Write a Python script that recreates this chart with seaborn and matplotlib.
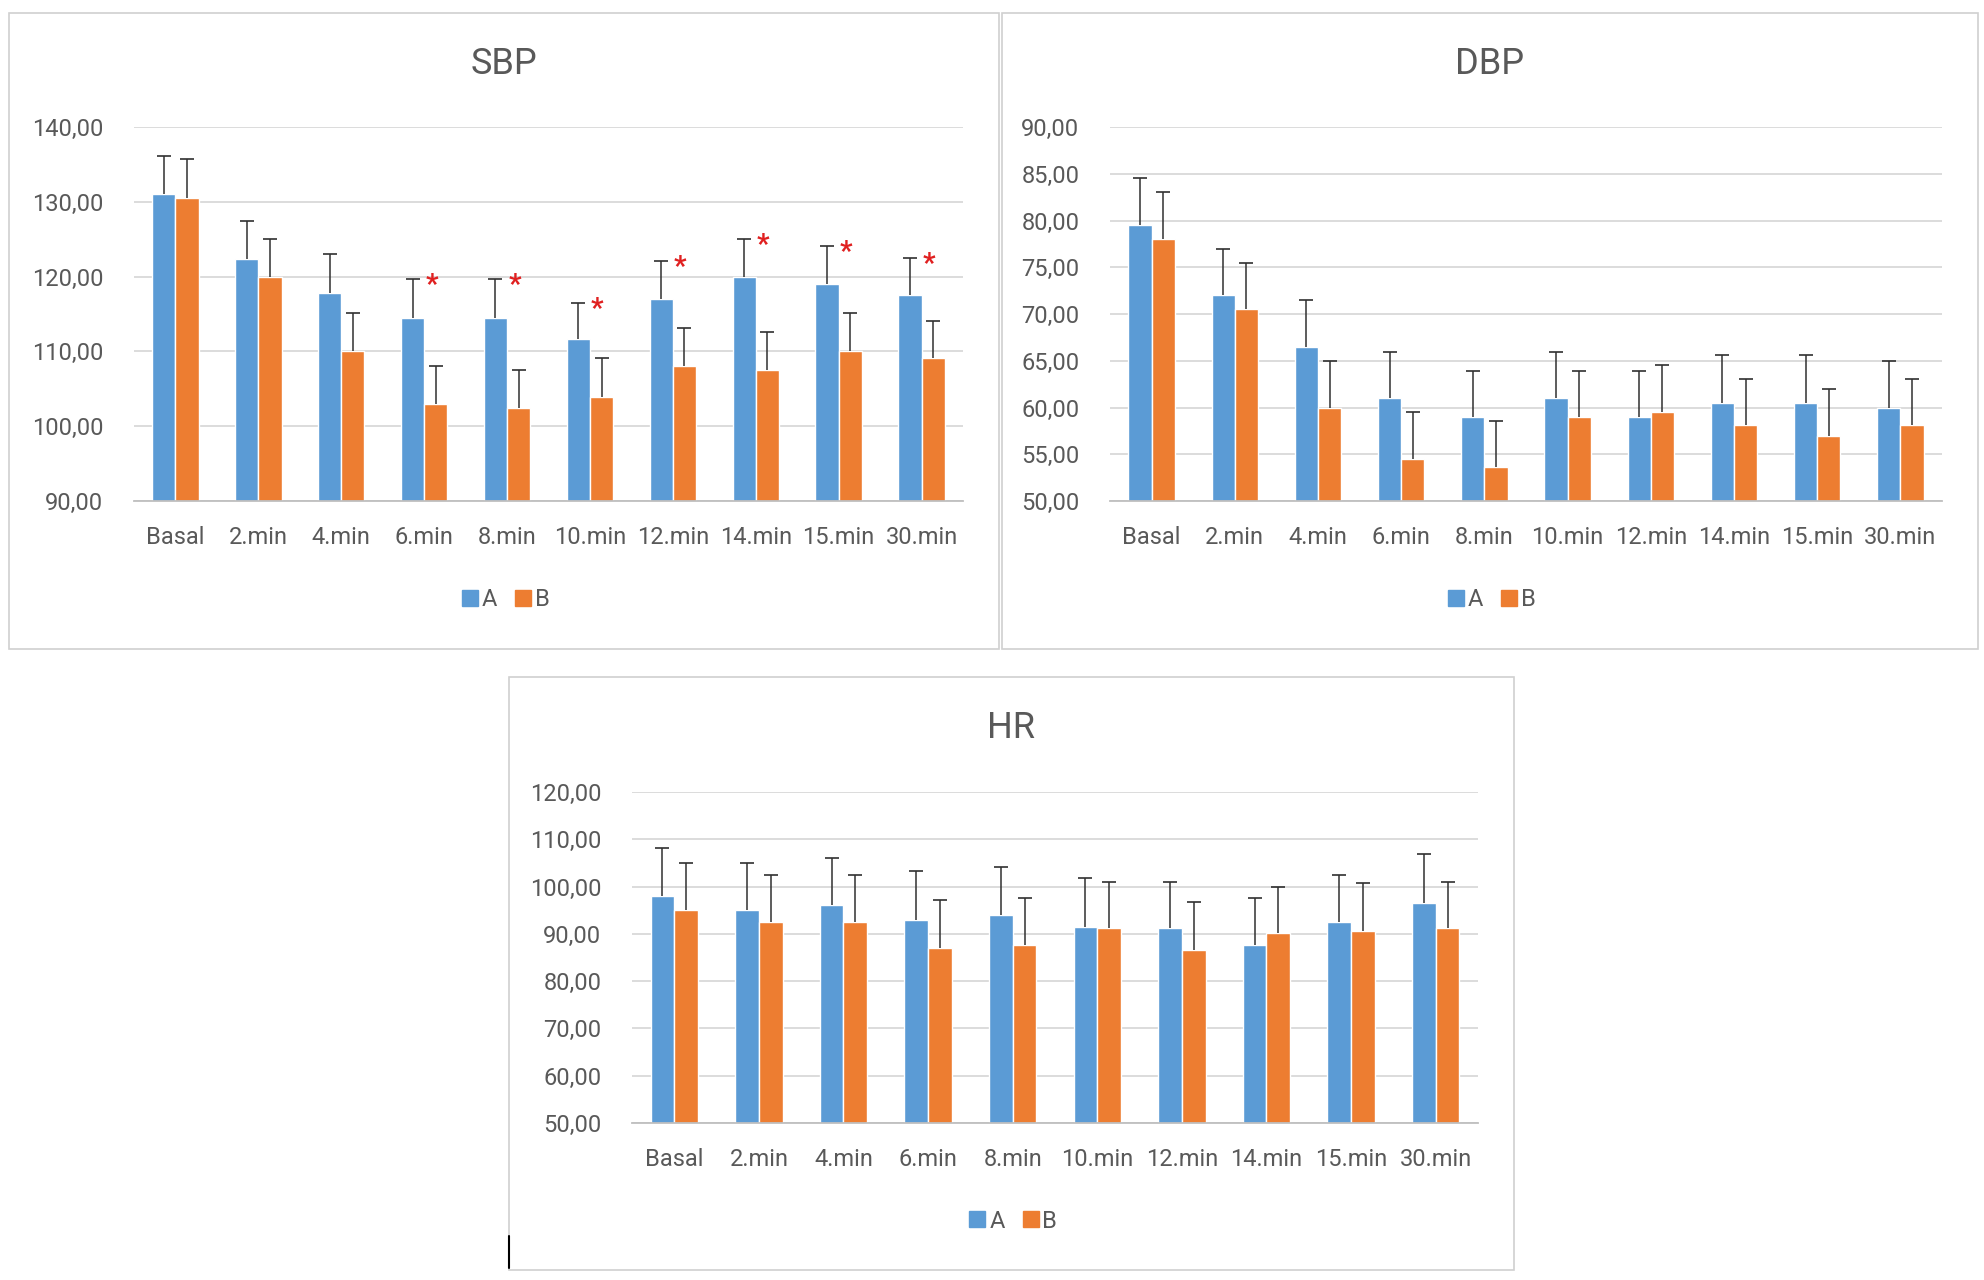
import numpy as np
import pandas as pd
import matplotlib
matplotlib.use("Agg")
import matplotlib.pyplot as plt
from matplotlib.patches import Rectangle
from matplotlib.lines import Line2D
import seaborn as sns

# Time points shared by all three panels
times = ["Basal", "2.min", "4.min", "6.min", "8.min",
         "10.min", "12.min", "14.min", "15.min", "30.min"]

# SBP means and top of error bar
sbp_a = [131.0, 122.3, 117.8, 114.5, 114.5, 111.6, 117.0, 120.0, 119.0, 117.5]
sbp_b = [130.5, 120.0, 110.0, 103.0, 102.5, 103.9, 108.0, 107.5, 110.0, 109.1]
sbp_a_top = [136.1, 127.5, 123.0, 119.7, 119.7, 116.5, 122.1, 125.0, 124.1, 122.5]
sbp_b_top = [135.7, 125.0, 115.1, 108.1, 107.5, 109.1, 113.1, 112.6, 115.1, 114.0]
sbp_star = [False, False, False, True, True, True, True, True, True, True]

# DBP
dbp_a = [79.5, 72.0, 66.5, 61.0, 59.0, 61.0, 59.0, 60.5, 60.5, 60.0]
dbp_b = [78.0, 70.5, 60.0, 54.5, 53.6, 59.0, 59.5, 58.1, 57.0, 58.1]
dbp_a_top = [84.5, 77.0, 71.5, 65.9, 63.9, 65.9, 63.9, 65.6, 65.6, 65.0]
dbp_b_top = [83.0, 75.5, 65.0, 59.5, 58.6, 63.9, 64.5, 63.0, 62.0, 63.0]

# HR
hr_a = [98.0, 95.0, 96.2, 93.0, 94.0, 91.5, 91.2, 87.6, 92.6, 96.6]
hr_b = [95.1, 92.6, 92.6, 87.0, 87.6, 91.2, 86.6, 90.1, 90.5, 91.2]
hr_a_top = [108.2, 105.0, 106.0, 103.2, 104.2, 101.8, 101.0, 97.5, 102.5, 106.8]
hr_b_top = [105.0, 102.5, 102.5, 97.1, 97.5, 101.0, 96.8, 100.0, 100.7, 101.0]

groups = ["A", "B"]
colors = {"A": "#5B9BD5", "B": "#ED7D31"}
text_col = "#595959"
grid_col = "#D9D9D9"
err_col = "#303030"

W, H = 1984, 1280


def px_rect(x0, y0, x1, y1):
    """Pixel box (top-left origin) -> figure fraction [l, b, w, h]."""
    return [x0 / W, 1 - y1 / H, (x1 - x0) / W, (y1 - y0) / H]


def draw_panel(fig, box, axbox, title, a, b, a_top, b_top, ticks, stars=None):
    # panel frame
    fx = px_rect(*box)
    fig.add_artist(Rectangle((fx[0], fx[1]), fx[2], fx[3], transform=fig.transFigure,
                             fill=False, edgecolor="#D0D0D0", linewidth=1.2))

    ax = fig.add_axes(px_rect(*axbox))
    df = pd.DataFrame({
        "time": times * 2,
        "value": a + b,
        "group": ["A"] * len(times) + ["B"] * len(times),
    })
    sns.barplot(data=df, x="time", y="value", hue="group", order=times,
                hue_order=groups, palette=colors, width=0.56, saturation=1,
                errorbar=None, legend=False, ax=ax)

    # upper-only error bars: stem from bar top, cap at the top only
    tops = {"A": a_top, "B": b_top}
    means = {"A": a, "B": b}
    for cont, g in zip(ax.containers, groups):
        xs = [p.get_x() + p.get_width() / 2 for p in cont.patches]
        ax.vlines(xs, means[g], tops[g], color=err_col, linewidth=1.1, zorder=3)
        ax.plot(xs, tops[g], linestyle="none", marker="_", markersize=10,
                markeredgewidth=1.2, color=err_col, zorder=3)

    if stars is not None:
        xs_a = [p.get_x() + p.get_width() / 2 for p in ax.containers[0].patches]
        for x, top, s in zip(xs_a, a_top, stars):
            if s:
                ax.text(x + 0.23, top - 0.9, "*", color="#E02020", fontsize=20,
                        fontweight="bold", ha="center", va="center")

    ax.set_ylim(ticks[0], ticks[-1])
    ax.set_yticks(ticks)
    ax.set_yticklabels([f"{t:.2f}".replace(".", ",") for t in ticks])
    ax.set_xlim(-0.5, len(times) - 0.5)
    ax.set_xlabel("")
    ax.set_ylabel("")
    ax.yaxis.grid(True, color=grid_col, linewidth=1.3)
    ax.xaxis.grid(False)
    ax.set_axisbelow(True)
    for sp in ["top", "right", "left"]:
        ax.spines[sp].set_visible(False)
    ax.spines["bottom"].set_color("#BFBFBF")
    ax.spines["bottom"].set_linewidth(1.3)
    ax.tick_params(axis="both", length=0, labelsize=17, colors=text_col)
    ax.tick_params(axis="x", pad=18)
    ax.tick_params(axis="y", pad=22)

    # title and legend centred on the frame
    cx = fx[0] + fx[2] / 2
    fig.text(cx, 1 - (box[1] + 51) / H, title, ha="center", va="center",
             fontsize=26, color=text_col)
    handles = [Line2D([], [], marker="s", linestyle="none", markersize=12,
                      markerfacecolor=colors[g], markeredgecolor=colors[g]) for g in groups]
    fig.legend(handles, groups, loc="center", bbox_to_anchor=(cx, 1 - (box[3] - 49) / H),
               ncol=2, frameon=False, fontsize=17, labelcolor=text_col,
               handletextpad=0.0, columnspacing=0.6, handlelength=1.0)
    return ax


sns.set_theme(style="white")
plt.rcParams["font.family"] = ["Roboto", "DejaVu Sans"]

fig = plt.figure(figsize=(W / 100, H / 100), dpi=100)
fig.patch.set_facecolor("white")

draw_panel(fig, (9, 13, 999, 649), (134, 127, 963, 501), "SBP",
           sbp_a, sbp_b, sbp_a_top, sbp_b_top, list(range(90, 141, 10)), sbp_star)
draw_panel(fig, (1002, 13, 1978, 649), (1110, 127, 1942, 501), "DBP",
           dbp_a, dbp_b, dbp_a_top, dbp_b_top, list(range(50, 91, 5)))
draw_panel(fig, (509, 677, 1514, 1270), (632, 792, 1478, 1123), "HR",
           hr_a, hr_b, hr_a_top, hr_b_top, list(range(50, 121, 10)))

# small stray mark at lower-left of the HR frame
fig.add_artist(Line2D([509 / W, 509 / W], [1 - 1236 / H, 1 - 1268 / H],
                      transform=fig.transFigure, color="black", linewidth=1.5))

fig.savefig("out.png", dpi=100, facecolor="white")
